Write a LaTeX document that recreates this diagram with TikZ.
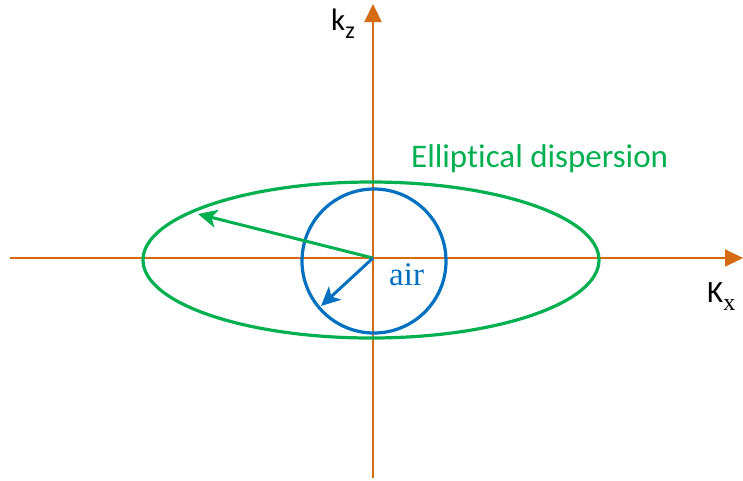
\documentclass[tikz,border=0pt]{standalone}
\usepackage{fontspec}
\setmainfont[Ligatures=NoCommon]{Carlito}
\newfontfamily\serifair{Liberation Serif}
\usetikzlibrary{arrows.meta}
\definecolor{axiscol}{RGB}{212,106,18}
\definecolor{ellcol}{RGB}{0,176,80}
\definecolor{circcol}{RGB}{0,112,192}
\tikzset{
  axisline/.style={draw=axiscol, line width=2.2pt, -{Triangle[length=18pt,width=17pt]}},
  curve/.style={line width=3.2pt},
  radarrow/.style={line width=3pt, -{Stealth[length=19pt,width=18pt,inset=5pt]}},
  lbl/.style={inner sep=0pt, font=\fontsize{31}{34}\selectfont}
}
\newcommand{\lowsub}[1]{\raisebox{-8pt}{\fontsize{24}{26}\selectfont #1}}
\begin{document}
\begin{tikzpicture}[x=1pt,y=-1pt]
\useasboundingbox (0,0) rectangle (743,480);
\coordinate (O) at (373,258);
\coordinate (xl) at (10,258);
\coordinate (xr) at (743,258);
\coordinate (zb) at (373,478);
\coordinate (zt) at (373,4);
\draw[axisline] (xl) -- (xr);
\draw[axisline] (zb) -- (zt);
\draw[curve, draw=ellcol] (371,260) ellipse [x radius=228, y radius=78];
\draw[curve, draw=circcol] (374,261) circle [radius=72];
\coordinate (gt) at (198,214);
\coordinate (bt) at (321,306);
\draw[radarrow, draw=ellcol, fill=ellcol] (O) -- (gt);
\draw[radarrow, draw=circcol, fill=circcol] (O) -- (bt);
\node[lbl, anchor=base west] (kz) at (331,30) {k\lowsub{z}};
\node[lbl, anchor=base west] (kx) at (707,302) {K\lowsub{\serifair x}};
\node[inner sep=0pt, text=ellcol, anchor=base west, font=\fontsize{33}{36}\selectfont] (ell) at (411,167) {Elliptical dispersion};
\node[inner sep=0pt, text=circcol, anchor=base west, font=\serifair\fontsize{33}{36}\selectfont] (air) at (389,285) {air};
\end{tikzpicture}
\end{document}
